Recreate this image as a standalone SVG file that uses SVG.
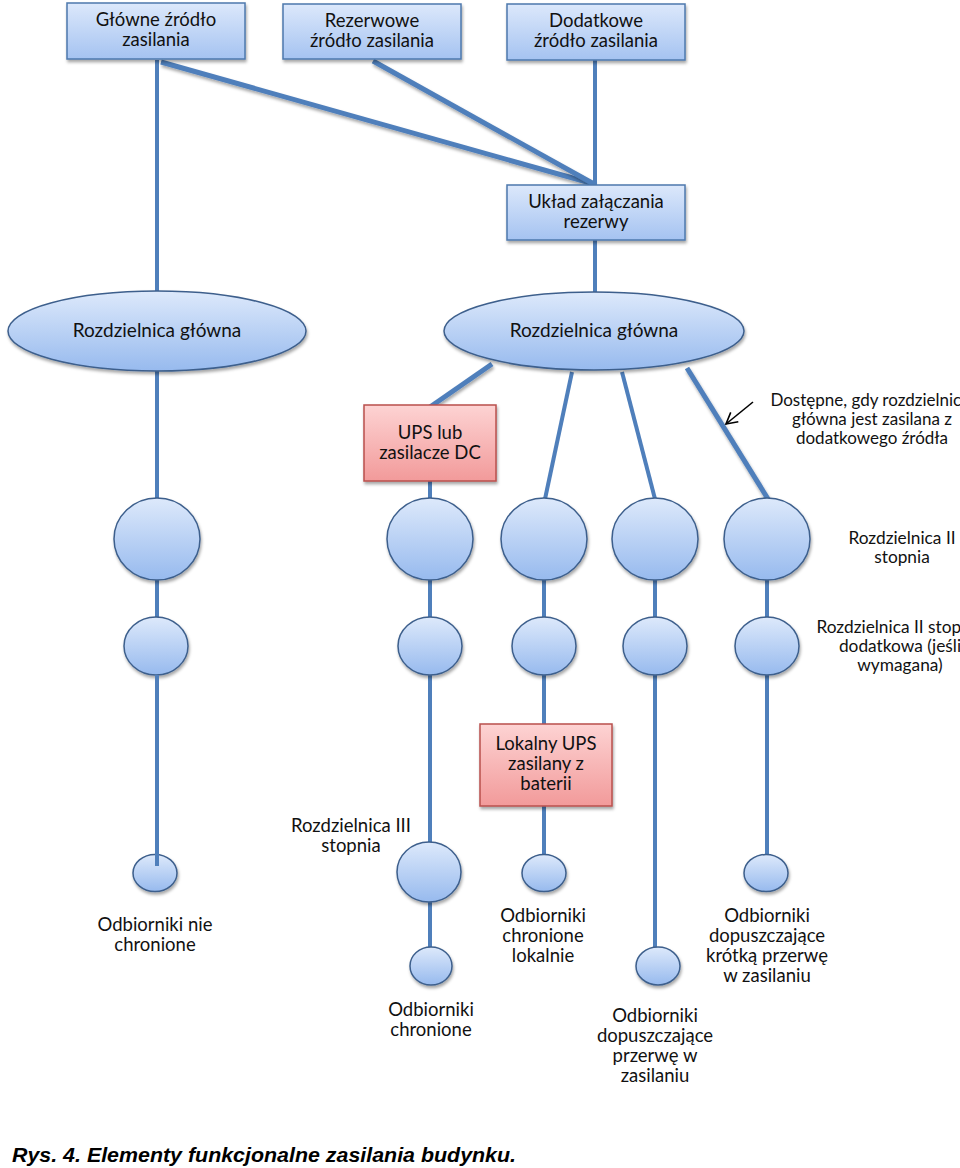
<svg xmlns="http://www.w3.org/2000/svg" width="960" height="1168" viewBox="0 0 960 1168">
<defs>
<linearGradient id="gb" x1="0" y1="0" x2="0" y2="1"><stop offset="0" stop-color="#dce8fb"/><stop offset="1" stop-color="#a5c3f1"/></linearGradient>
<linearGradient id="gc" x1="0" y1="0" x2="0" y2="1"><stop offset="0" stop-color="#dde9fb"/><stop offset="1" stop-color="#97baee"/></linearGradient>
<linearGradient id="gr" x1="0" y1="0" x2="0" y2="1"><stop offset="0" stop-color="#fdd3d3"/><stop offset="1" stop-color="#f29a9a"/></linearGradient>
<filter id="sh" x="-20%" y="-20%" width="140%" height="150%"><feDropShadow dx="1" dy="2.5" stdDeviation="1.5" flood-color="#000" flood-opacity="0.35"/></filter>
<marker id="ah" markerWidth="14" markerHeight="14" refX="12" refY="7" orient="auto" markerUnits="userSpaceOnUse"><path d="M1,1 L12,7 L1,13" fill="none" stroke="#000" stroke-width="1.6"/></marker>
</defs>
<style>
.box{fill:url(#gb);stroke:#4d78ad;stroke-width:1.5;filter:url(#sh)}
.rbox{fill:url(#gr);stroke:#b9504c;stroke-width:1.5;filter:url(#sh)}
.ell{fill:url(#gc);stroke:#3d5f8c;stroke-width:1.5;filter:url(#sh)}
.t{font-family:Lato,"Noto Sans","Liberation Sans",sans-serif;font-size:18.5px;fill:#111;text-anchor:middle}
.s{font-size:17.3px}
.ln{stroke:#4f7fbb;stroke-width:4;fill:none}
.dg{stroke:#4f7fbb;stroke-width:5;fill:none;filter:url(#sh)}
.cap{font-family:"Liberation Sans",Arial,sans-serif;font-weight:bold;font-style:italic;font-size:21px;fill:#000}
</style>
<rect width="960" height="1168" fill="#fff"/>
<g id="connectors">
<line class="dg" x1="161" y1="62" x2="594" y2="184"/>
<line class="dg" x1="373" y1="61" x2="594" y2="184"/>
<line class="ln" x1="595" y1="60" x2="595" y2="186"/>
<line class="ln" x1="595" y1="240" x2="595" y2="292"/>
<line class="ln" x1="157" y1="60" x2="157" y2="292"/>
<line class="ln" x1="157" y1="370" x2="157" y2="499"/>
<line class="dg" x1="492" y1="364" x2="430" y2="407"/>
<line class="ln" x1="572" y1="372" x2="545" y2="499"/>
<line class="ln" x1="622" y1="372" x2="655" y2="499"/>
<line class="dg" x1="687" y1="368" x2="768" y2="499"/>
<line class="ln" x1="430" y1="481" x2="430" y2="499"/>
<line class="ln" x1="157" y1="580" x2="157" y2="618"/>
<line class="ln" x1="430" y1="580" x2="430" y2="618"/>
<line class="ln" x1="544" y1="580" x2="544" y2="618"/>
<line class="ln" x1="655" y1="580" x2="655" y2="618"/>
<line class="ln" x1="767" y1="580" x2="767" y2="618"/>
<line class="ln" x1="430" y1="675" x2="430" y2="843"/>
<line class="ln" x1="430" y1="902" x2="430" y2="948"/>
<line class="ln" x1="544" y1="675" x2="544" y2="725"/>
<line class="ln" x1="544" y1="806" x2="544" y2="856"/>
<line class="ln" x1="655" y1="675" x2="655" y2="948"/>
<line class="ln" x1="767" y1="675" x2="767" y2="856"/>
<line x1="753" y1="402" x2="726" y2="424" stroke="#000" stroke-width="1.6" marker-end="url(#ah)"/>
</g>
<g id="src-main"><rect class="box" x="67" y="3" width="178" height="56"/><text class="t" x="156" y="26">Główne źródło</text><text class="t" x="156" y="46">zasilania</text></g>
<g id="src-reserve"><rect class="box" x="283" y="4" width="178" height="55"/><text class="t" x="372" y="27">Rezerwowe</text><text class="t" x="372" y="47">źródło zasilania</text></g>
<g id="src-extra"><rect class="box" x="507" y="4" width="178" height="56"/><text class="t" x="596" y="27">Dodatkowe</text><text class="t" x="596" y="47">źródło zasilania</text></g>
<g id="ats"><rect class="box" x="507" y="185" width="178" height="55"/><text class="t" x="596" y="208">Układ załączania</text><text class="t" x="596" y="228">rezerwy</text></g>
<g id="mdb-left"><ellipse class="ell" cx="157" cy="331" rx="149" ry="40"/><text class="t" x="157" y="337" style="font-size:19px">Rozdzielnica główna</text></g>
<g id="mdb-right"><ellipse class="ell" cx="594" cy="331" rx="150" ry="39"/><text class="t" x="594" y="337" style="font-size:19px">Rozdzielnica główna</text></g>
<g id="ups-dc"><rect class="rbox" x="364" y="405" width="132" height="76"/><text class="t" x="430" y="439">UPS lub</text><text class="t" x="430" y="459">zasilacze DC</text></g>
<g id="note-extra"><text class="t" x="870" y="406" style="font-size:17px">Dostępne, gdy rozdzielnica</text><text class="t" x="872" y="425" style="font-size:17px">główna jest zasilana z</text><text class="t" x="872" y="444" style="font-size:17px">dodatkowego źródła</text></g>
<g id="c2-1"><ellipse class="ell" cx="157" cy="539" rx="43" ry="41"/></g>
<g id="c2-2"><ellipse class="ell" cx="430" cy="539" rx="43" ry="41"/></g>
<g id="c2-3"><ellipse class="ell" cx="544" cy="539" rx="43" ry="41"/></g>
<g id="c2-4"><ellipse class="ell" cx="655" cy="539" rx="43" ry="41"/></g>
<g id="c2-5"><ellipse class="ell" cx="767" cy="539" rx="43" ry="41"/></g>
<g id="label-ii"><text class="t s" x="902" y="544">Rozdzielnica II</text><text class="t s" x="902" y="563">stopnia</text></g>
<g id="c2b-1"><ellipse class="ell" cx="156" cy="646" rx="32" ry="29"/></g>
<g id="c2b-2"><ellipse class="ell" cx="430" cy="646" rx="32" ry="29"/></g>
<g id="c2b-3"><ellipse class="ell" cx="544" cy="646" rx="32" ry="29"/></g>
<g id="c2b-4"><ellipse class="ell" cx="655" cy="646" rx="32" ry="29"/></g>
<g id="c2b-5"><ellipse class="ell" cx="767" cy="646" rx="32" ry="29"/></g>
<g id="label-iib"><text class="t s" x="900" y="633">Rozdzielnica II stopnia</text><text class="t s" x="900" y="652">dodatkowa (jeśli</text><text class="t s" x="900" y="671">wymagana)</text></g>
<g id="local-ups"><rect class="rbox" x="480" y="724" width="132" height="82"/><text class="t" x="546" y="750">Lokalny UPS</text><text class="t" x="546" y="770">zasilany z</text><text class="t" x="546" y="790">baterii</text></g>
<g id="db-iii"><ellipse class="ell" cx="429" cy="872" rx="32" ry="30"/><text class="t" x="351" y="832">Rozdzielnica III</text><text class="t" x="351" y="852">stopnia</text></g>
<g id="load-1"><ellipse class="ell" cx="155" cy="873" rx="22" ry="18.5"/><line class="ln" x1="157" y1="675" x2="157" y2="866"/><text class="t" x="155" y="931">Odbiorniki nie</text><text class="t" x="155" y="951">chronione</text></g>
<g id="load-2"><ellipse class="ell" cx="431" cy="966" rx="21" ry="19"/><text class="t" x="431" y="1016">Odbiorniki</text><text class="t" x="431" y="1036">chronione</text></g>
<g id="load-3"><ellipse class="ell" cx="544" cy="873" rx="22" ry="18.5"/><text class="t" x="543" y="922">Odbiorniki</text><text class="t" x="543" y="942">chronione</text><text class="t" x="543" y="962">lokalnie</text></g>
<g id="load-4"><ellipse class="ell" cx="658" cy="966" rx="22" ry="19"/><text class="t" x="655" y="1022">Odbiorniki</text><text class="t" x="655" y="1042">dopuszczające</text><text class="t" x="655" y="1062">przerwę w</text><text class="t" x="655" y="1082">zasilaniu</text></g>
<g id="load-5"><ellipse class="ell" cx="766" cy="873" rx="22" ry="18.5"/><text class="t" x="767" y="922">Odbiorniki</text><text class="t" x="767" y="942">dopuszczające</text><text class="t" x="767" y="962">krótką przerwę</text><text class="t" x="767" y="982">w zasilaniu</text></g>
<text class="cap" x="12" y="1162" textLength="504" lengthAdjust="spacingAndGlyphs">Rys. 4. Elementy funkcjonalne zasilania budynku.</text>
</svg>
